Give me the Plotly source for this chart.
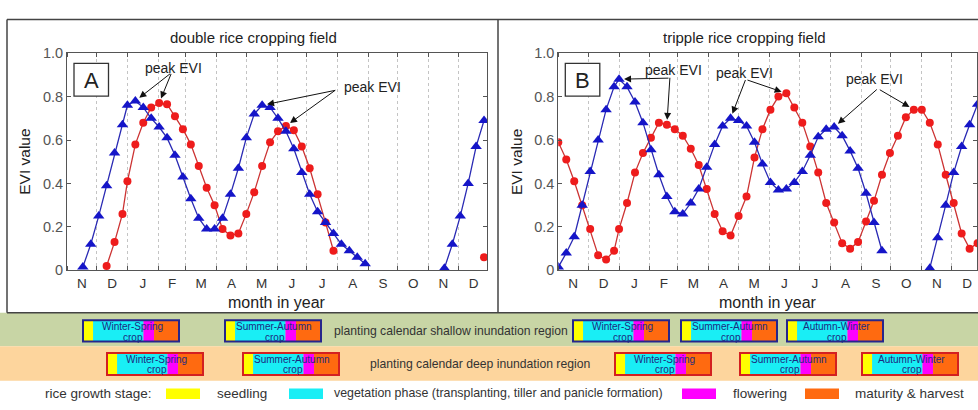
import datetime as dt
import plotly.graph_objects as go

W, H = 978, 410
FONT = "Arial, 'Liberation Sans', sans-serif"

# ---------------- data ----------------
MONTH_LETTERS = ["N", "D", "J", "F", "M", "A", "M", "J", "J", "A", "S", "O", "N", "D"]
Y_TICKS = [0, 0.2, 0.4, 0.6, 0.8, 1.0]
Y_TICKTEXT = ["0", "0.2", "0.4", "0.6", "0.8", "1.0"]

# Panel A: double rice cropping field (MODIS 8-day composites; first composite year, DOY)
a_blue_start = (2009, 321)
a_blue = [0.015, 0.12, 0.25, 0.39, 0.54, 0.67, 0.76, 0.78, 0.75, 0.70,
          0.66, 0.61, 0.53, 0.43, 0.33, 0.24, 0.19, 0.19, 0.24, 0.35,
          0.47, 0.61, 0.72, 0.76, 0.75, 0.70, 0.64, 0.56, 0.45, 0.35,
          0.27, 0.22, 0.17, 0.12, 0.09, 0.06, 0.03]
a_blue2_start = (2010, 321)
a_blue2 = [0.01, 0.12, 0.25, 0.40, 0.57, 0.69]
a_red_start = (2009, 345)
a_red = [0.02, 0.13, 0.26, 0.41, 0.58, 0.68, 0.75, 0.77, 0.765, 0.71,
         0.65, 0.58, 0.48, 0.38, 0.30, 0.19, 0.16, 0.17, 0.26, 0.36,
         0.48, 0.59, 0.64, 0.665, 0.645, 0.57, 0.47, 0.35, 0.22, 0.09]
a_red2_start = (2010, 361)
a_red2 = [0.06]

# Panel B: tripple rice cropping field
b_blue_start = (2009, 305)
b_blue = [0.015, 0.08, 0.155, 0.30, 0.455, 0.60, 0.74, 0.845, 0.88, 0.845,
          0.775, 0.68, 0.555, 0.44, 0.34, 0.27, 0.26, 0.31, 0.375, 0.475,
          0.58, 0.665, 0.70, 0.69, 0.665, 0.59, 0.49, 0.405, 0.37, 0.375,
          0.405, 0.455, 0.53, 0.615, 0.65, 0.66, 0.62, 0.55, 0.47, 0.355,
          0.22, 0.09]
b_blue2_start = (2010, 313)
b_blue2 = [0.01, 0.15, 0.30, 0.45, 0.57, 0.67, 0.765]
b_red_start = (2009, 305)
b_red = [0.59, 0.51, 0.41, 0.30, 0.19, 0.07, 0.05, 0.09, 0.19, 0.31,
         0.45, 0.54, 0.61, 0.68, 0.67, 0.65, 0.62, 0.56, 0.485, 0.375,
         0.26, 0.18, 0.16, 0.25, 0.34, 0.52, 0.65, 0.74, 0.80, 0.815,
         0.75, 0.68, 0.57, 0.45, 0.31, 0.22, 0.125, 0.10, 0.13, 0.225,
         0.32, 0.44, 0.54, 0.62, 0.705, 0.74, 0.74, 0.68, 0.58, 0.44,
         0.31, 0.17, 0.10, 0.125]

# peak EVI annotations: (panel, blue peak index, red peak index)
peaks = [("A", 7, 7), ("A", 23, 23), ("B", 8, 14), ("B", 22, 29), ("B", 35, 45)]

# planting calendars
shallow_crops_A = ["Winter-Spring", "Summer-Autumn"]
shallow_crops_B = ["Winter-Spring", "Summer-Autumn", "Autumn-Winter"]
deep_crops_A = ["Winter-Spring", "Summer-Autumn"]
deep_crops_B = ["Winter-Spring", "Summer-Autumn", "Autumn-Winter"]
stage_names = ["seedling", "vegetation phase (transplanting, tiller and panicle formation)",
               "flowering", "maturity & harvest"]
stage_colors = ["#ffff00", "#19eef5", "#ff00ff", "#ff6a10"]

# ---------------- layout geometry (pixels) ----------------
PLOT_TOP, PLOT_BOT = 47, 273
PANELS = {
    "A": dict(x0=67, x1=487, rng=(dt.datetime(2009, 11, 1), dt.datetime(2010, 12, 30)),
              xa="x", ya="y"),
    "B": dict(x0=558.3, x1=977, rng=(dt.datetime(2009, 11, 1), dt.datetime(2010, 12, 26, 10)),
              xa="x2", ya="y2"),
}
SHALLOW_X = [83, 225, 573, 681, 787]
DEEP_X = [107, 243, 615, 740, 862]
BOX_W = 96
STAGE_FRAC = [0, 0.105, 0.63, 0.74, 1.0]
peak_tails = [(171.7, 68.3), (336.7, 86), (670, 73), (746, 75), (878.3, 85)]
peak_text = [(173.7, 62.5), (372.7, 82.5), (673.7, 64.5), (744, 67.5), (874, 74)]


def px(x):
    return x / W


def py(y):
    return 1 - y / H


def composite_dates(start, n):
    year, doy = start
    out = []
    for _ in range(n):
        out.append(dt.datetime(year, 1, 1) + dt.timedelta(days=doy - 1))
        doy += 8
        if doy > 365:
            year += 1
            doy = 1
    return out


def to_px(panel, date, val):
    p = PANELS[panel]
    r0, r1 = p["rng"]
    f = (date - r0).total_seconds() / (r1 - r0).total_seconds()
    return p["x0"] + f * (p["x1"] - p["x0"]), PLOT_BOT - val * (PLOT_BOT - PLOT_TOP)


BLUE = "#1515c8"
BLUE_LINE = "#2a2ab4"
RED = "#ee1c1c"
RED_LINE = "#cc3333"

series = {
    "A": dict(blue=[(a_blue_start, a_blue), (a_blue2_start, a_blue2)],
              red=[(a_red_start, a_red), (a_red2_start, a_red2)]),
    "B": dict(blue=[(b_blue_start, b_blue), (b_blue2_start, b_blue2)],
              red=[(b_red_start, b_red)]),
}

fig = go.Figure()
for panel, s in series.items():
    p = PANELS[panel]
    for start, vals in s["red"]:
        fig.add_trace(go.Scatter(
            x=composite_dates(start, len(vals)), y=vals, xaxis=p["xa"], yaxis=p["ya"],
            mode="lines+markers" if len(vals) > 1 else "markers",
            line=dict(color=RED_LINE, width=1.3),
            marker=dict(symbol="circle", size=8, color=RED), showlegend=False))
    for start, vals in s["blue"]:
        fig.add_trace(go.Scatter(
            x=composite_dates(start, len(vals)), y=vals, xaxis=p["xa"], yaxis=p["ya"],
            mode="lines+markers",
            line=dict(color=BLUE_LINE, width=1.3),
            marker=dict(symbol="triangle-up", size=10, color=BLUE), showlegend=False))

# month ticks
month_starts = [dt.datetime(2009 + (10 + i) // 12, (10 + i) % 12 + 1, 1) for i in range(15)]
mid_months = [month_starts[i] + (month_starts[i + 1] - month_starts[i]) / 2 for i in range(14)]

axis_line = "#555555"
for panel, p in PANELS.items():
    xkey = "xaxis" if p["xa"] == "x" else "xaxis2"
    ykey = "yaxis" if p["ya"] == "y" else "yaxis2"
    fig.update_layout({
        xkey: dict(domain=[px(p["x0"]), px(p["x1"])], type="date", range=list(p["rng"]),
                   anchor=p["ya"], tickmode="array", tickvals=mid_months, ticktext=MONTH_LETTERS,
                   ticks="", showgrid=False, zeroline=False, showline=True, linecolor=axis_line,
                   linewidth=1, mirror="ticks",
                   tickfont=dict(family=FONT, size=13.5, color="#333"),
                   minor=dict(tickmode="linear", tick0="2009-11-01", dtick="M1", ticks="inside",
                              ticklen=4, tickcolor=axis_line, showgrid=True,
                              gridcolor="#c4c4c4", griddash="dot", gridwidth=1)),
        ykey: dict(domain=[py(PLOT_BOT), py(PLOT_TOP)], range=[0, 1], anchor=p["xa"],
                   tickmode="array", tickvals=Y_TICKS, ticktext=Y_TICKTEXT, ticks="inside",
                   ticklen=4, tickcolor=axis_line, showgrid=False, zeroline=False,
                   showline=True, linecolor=axis_line, linewidth=1, mirror="ticks",
                   tickfont=dict(family=FONT, size=14.5, color="#555")),
    })

shapes = []
annotations = []

# background bands and frame
shapes.append(dict(type="rect", xref="paper", yref="paper", x0=px(0), x1=px(978), y0=py(352), y1=py(317),
                   fillcolor="#c8d5a5", line=dict(width=0), layer="below"))
shapes.append(dict(type="rect", xref="paper", yref="paper", x0=px(0), x1=px(978), y0=py(388), y1=py(352),
                   fillcolor="#fdd59d", line=dict(width=0), layer="below"))
frame = "#444444"
for (x0, y0, x1, y1) in [(7, 12, 978, 12), (7, 12, 7, 317), (498, 12, 498, 317), (7, 317, 978, 317)]:
    shapes.append(dict(type="line", xref="paper", yref="paper", x0=px(x0), y0=py(y0), x1=px(x1), y1=py(y1),
                       line=dict(color=frame, width=1.5)))

# titles
for txt, x in [("double rice cropping field", 253), ("tripple rice cropping field", 744)]:
    annotations.append(dict(text=txt, x=px(x), y=py(30.5), xref="paper", yref="paper", showarrow=False,
                            xanchor="center", yanchor="middle", font=dict(family=FONT, size=15, color="#222")))
for panel, p in PANELS.items():
    annotations.append(dict(text="month in year", x=px((p["x0"] + p["x1"]) / 2), y=py(306), xref="paper",
                            yref="paper", showarrow=False, xanchor="center", yanchor="middle",
                            font=dict(family=FONT, size=16, color="#222")))
    annotations.append(dict(text="EVI value", x=px(p["x0"] - 42), y=py(160), xref="paper", yref="paper",
                            showarrow=False, textangle=-90, xanchor="center", yanchor="middle",
                            font=dict(family=FONT, size=15.5, color="#222")))
    bx = p["x0"] + 7
    shapes.append(dict(type="rect", xref="paper", yref="paper", x0=px(bx), x1=px(bx + 34.5),
                       y0=py(91.7), y1=py(57.7), fillcolor="white", line=dict(color="#333", width=1.3)))
    annotations.append(dict(text=panel, x=px(bx + 17.2), y=py(75), xref="paper", yref="paper",
                            showarrow=False, xanchor="center", yanchor="middle",
                            font=dict(family=FONT, size=22, color="#222")))

# peak EVI arrows
for (panel, bi, ri), (tx, ty), (lx, ly) in zip(peaks, peak_tails, peak_text):
    p = PANELS[panel]
    blue_vals = series[panel]["blue"][0]
    red_vals = series[panel]["red"][0]
    for (start, vals), idx in [(blue_vals, bi), (red_vals, ri)]:
        d = composite_dates(start, len(vals))[idx]
        hx, hy = to_px(panel, d, vals[idx])
        annotations.append(dict(text="", x=d, y=vals[idx], xref=p["xa"], yref=p["ya"],
                                showarrow=True, ax=tx - hx, ay=ty - hy, axref="pixel", ayref="pixel",
                                arrowhead=2, arrowsize=1.4, arrowwidth=1, arrowcolor="#111",
                                standoff=5))
    annotations.append(dict(text="peak EVI", x=px(lx), y=py(ly), xref="paper", yref="paper",
                            showarrow=False, xanchor="center", yanchor="middle",
                            font=dict(family=FONT, size=14, color="#222")))


# planting calendar boxes
def add_box(x, ytop, ybot, name, border):
    for k in range(4):
        shapes.append(dict(type="rect", xref="paper", yref="paper",
                           x0=px(x + STAGE_FRAC[k] * BOX_W), x1=px(x + STAGE_FRAC[k + 1] * BOX_W),
                           y0=py(ybot), y1=py(ytop), fillcolor=stage_colors[k], line=dict(width=0)))
    shapes.append(dict(type="rect", xref="paper", yref="paper", x0=px(x), x1=px(x + BOX_W),
                       y0=py(ybot), y1=py(ytop), line=dict(color=border, width=2)))
    cx = x + BOX_W / 2 + 1
    annotations.append(dict(text=name, x=px(cx), y=py(ytop + 6.5), xref="paper", yref="paper",
                            showarrow=False, xanchor="center", yanchor="middle", borderpad=0,
                            font=dict(family=FONT, size=10, color="#1c2a80")))
    annotations.append(dict(text="crop", x=px(cx + 1), y=py(ytop + 17.5), xref="paper", yref="paper",
                            showarrow=False, xanchor="center", yanchor="middle", borderpad=0,
                            font=dict(family=FONT, size=10, color="#1c2a80")))


for x, name in zip(SHALLOW_X, shallow_crops_A + shallow_crops_B):
    add_box(x, 325, 347, name, "#26268c")
for x, name in zip(DEEP_X, deep_crops_A + deep_crops_B):
    add_box(x, 359, 382, name, "#d42020")

annotations.append(dict(text="planting calendar shallow inundation region", x=px(332), y=py(336),
                        xref="paper", yref="paper", showarrow=False, xanchor="left", yanchor="middle",
                        font=dict(family=FONT, size=12.2, color="#333")))
annotations.append(dict(text="planting calendar deep inundation region", x=px(368), y=py(370.5),
                        xref="paper", yref="paper", showarrow=False, xanchor="left", yanchor="middle",
                        font=dict(family=FONT, size=12.2, color="#333")))

# growth stage legend
annotations.append(dict(text="rice growth stage:", x=px(43), y=py(401), xref="paper", yref="paper",
                        showarrow=False, xanchor="left", yanchor="middle",
                        font=dict(family=FONT, size=13.5, color="#333")))
SWATCH_X = [166, 289, 682, 805]
LABEL_X = [215, 332, 731, 853]
LABEL_SIZE = [13.5, 12.4, 13.5, 13.5]
for k in range(4):
    shapes.append(dict(type="rect", xref="paper", yref="paper", x0=px(SWATCH_X[k]), x1=px(SWATCH_X[k] + 34),
                       y0=py(407), y1=py(396), fillcolor=stage_colors[k], line=dict(width=0)))
    annotations.append(dict(text=stage_names[k], x=px(LABEL_X[k]), y=py(401), xref="paper", yref="paper",
                            showarrow=False, xanchor="left", yanchor="middle",
                            font=dict(family=FONT, size=LABEL_SIZE[k], color="#333")))

fig.update_layout(width=W, height=H, autosize=False, margin=dict(l=0, r=0, t=0, b=0, pad=0),
                  paper_bgcolor="white", plot_bgcolor="white", showlegend=False,
                  shapes=shapes, annotations=annotations, font=dict(family=FONT))

fig.write_html("out.html", config={"displayModeBar": False},
               post_script="document.body.style.margin='0';document.body.style.overflow='hidden';")
